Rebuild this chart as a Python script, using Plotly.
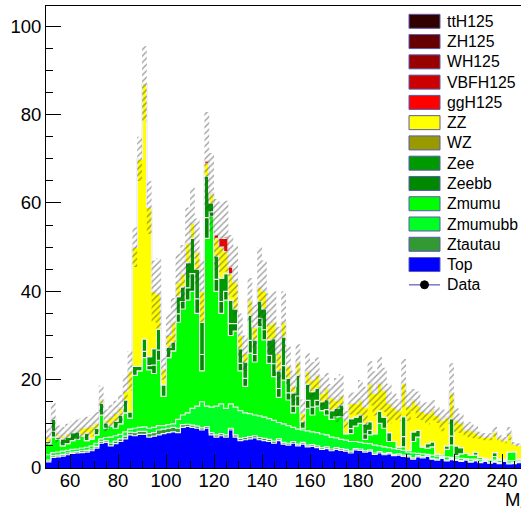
import numpy as np
import plotly.graph_objects as go

# ---------------- data (bins of 2 GeV, low edges 50..246) ----------------
bin_low = list(range(50, 248, 2))

top = [1.4, 2.4, 2.5, 2.7, 3.0, 3.3, 3.4, 3.5, 3.6, 3.9,
       4.5, 5.6, 5.8, 5.0, 5.5, 6.0, 6.6, 7.5, 7.3, 7.6,
       7.6, 7.0, 7.2, 7.5, 7.8, 8.0, 8.2, 8.0, 9.2, 9.4,
       9.2, 9.0, 8.6, 9.0, 7.5, 7.0, 7.3, 7.0, 8.6, 7.0,
       6.2, 6.4, 6.6, 6.8, 6.4, 6.2, 6.0, 5.6, 6.2, 5.4,
       5.2, 5.6, 5.0, 5.4, 4.8, 4.9, 4.6, 4.2, 4.4, 3.9,
       4.2, 4.0, 3.8, 3.4, 4.1, 4.0, 3.6, 3.8, 3.1, 3.4,
       3.0, 3.2, 2.8, 2.9, 2.6, 2.5, 2.0, 2.5, 2.3, 2.6,
       2.0, 1.8, 2.2, 1.6, 1.9, 1.7, 1.5, 1.8, 1.3, 1.6,
       1.2, 1.5, 1.1, 1.3, 1.0, 1.5, 0.9, 1.0, 1.2]

ztautau = [0.4, 0.4, 0.4, 0.4, 0.4, 0.3, 0.3, 0.4, 0.4, 0.4,
           0.4, 0.4, 0.4, 0.6, 0.6, 0.6, 0.6, 0.6, 0.7, 0.7,
           0.7, 0.8, 0.8, 1.1, 1.0, 1.0, 1.0, 1.0, 0.6, 0.5,
           0.5, 0.5, 0.5, 0.4, 0.5, 0.5, 0.5, 0.5, 0.4, 0.5,
           0.5, 0.5, 0.5, 0.5, 0.5, 0.5, 0.5, 0.5, 0.4, 0.4,
           0.4, 0.4, 0.4, 0.4, 0.4, 0.4, 0.4, 0.4, 0.4, 0.4,
           0.4, 0.4, 0.4, 0.4, 0.3, 0.3, 0.3, 0.3, 0.3, 0.3,
           0.3, 0.3, 0.3, 0.3, 0.3, 0.3, 0.3, 0.3, 0.3, 0.3,
           0.2, 0.2, 0.2, 0.2, 0.2, 0.2, 0.2, 0.2, 0.2, 0.2,
           0.2, 0.2, 0.2, 0.2, 0.2, 0.2, 0.2, 0.2, 0.2]

zmumubb = [1.2, 0.7, 0.7, 0.7, 0.6, 0.6, 0.6, 0.6, 0.7, 0.7,
           0.7, 0.6, 0.7, 1.4, 1.2, 1.0, 1.0, 0.7, 1.0, 0.9,
           1.0, 1.2, 1.2, 1.0, 0.8, 0.8, 0.8, 2.0, 2.2, 2.6,
           3.8, 4.5, 5.9, 4.6, 5.8, 6.5, 6.7, 6.0, 5.5, 6.3,
           6.3, 5.6, 5.2, 4.7, 4.9, 4.8, 4.7, 4.7, 3.7, 4.2,
           4.0, 3.2, 3.4, 2.8, 3.2, 2.9, 3.0, 3.1, 2.7, 2.7,
           2.2, 2.1, 2.1, 2.2, 1.6, 1.5, 1.7, 1.4, 1.8, 1.3,
           1.5, 1.1, 1.3, 1.0, 1.1, 0.8, 1.1, 0.5, 0.6, 0.2,
           0.7, 0.7, 0.2, 0.7, 0.3, 0.4, 0.5, 0.1, 0.5, 0.2,
           0.5, 0.2, 0.5, 0.3, 0.5, 0.0, 0.5, 0.4, 0.2]

zmumu = [2.5, 3.5, 2.9, 1.2, 1.5, 2.0, 2.2, 2.7, 1.5, 1.5,
         1.9, 5.4, 2.1, 2.5, 1.7, 2.4, 4.3, 2.5, 12.0, 12.8,
         15.7, 13.2, 12.2, 14.8, 6.6, 15.2, 16.5, 22.0, 24.0, 25.5,
         26.5, 21.0, 7.0, 38.0, 43.2, 26.0, 20.5, 24.5, 15.5, 17.2,
         9.0, 6.0, 13.7, 12.0, 20.2, 17.5, 12.5, 9.9, 5.7, 9.9,
         5.8, 3.3, 5.2, 0.4, 5.1, 3.8, 6.0, 5.3, 4.5, 4.0,
         4.8, 5.1, 1.5, 1.8, 3.5, 4.3, 0.9, 2.0, 2.6, 5.1,
         4.2, 1.4, 1.6, 0.6, 0.8, 0.4, 2.6, 3.7, 1.6, 1.4,
         1.9, 0.5, 0.4, 1.7, 2.8, 0.5, 1.0, 1.2, 0.9, 0.9,
         0.5, 0.3, 0.2, 0.8, 0.3, 0.3, 2.0, 2.1, 0.4]

zeebb = [0.0, 1.3, 0.0, 0.0, 0.0, 0.0, 0.0, 0.0, 0.0, 0.0,
         0.0, 0.0, 0.0, 0.0, 0.0, 0.0, 0.0, 0.0, 0.0, 0.0,
         1.4, 1.0, 1.9, 2.3, 0.0, 0.0, 0.0, 1.9, 1.7, 2.8,
         4.0, 3.3, 3.7, 4.7, 1.0, 2.7, 2.7, 2.0, 2.7, 1.7,
         1.7, 1.8, 2.9, 1.7, 1.9, 2.3, 1.8, 2.9, 2.0, 3.3,
         1.6, 1.5, 2.3, 0.0, 1.8, 1.8, 1.3, 0.0, 1.2, 0.0,
         0.0, 0.0, 0.0, 1.1, 0.0, 0.0, 1.2, 1.0, 0.0, 0.0,
         0.0, 0.0, 0.0, 0.0, 2.3, 0.0, 0.0, 0.0, 0.0, 0.0,
         0.0, 0.0, 0.0, 0.0, 2.0, 0.0, 0.0, 0.0, 0.0, 0.0,
         0.0, 0.0, 0.0, 0.0, 0.0, 0.0, 0.0, 0.0, 0.0]

zee = [0.5, 2.7, 0.5, 1.6, 1.5, 1.8, 1.7, 0.2, 1.7, 0.1,
       1.5, 2.7, 1.2, 0.2, 1.6, 1.9, 2.9, 1.4, 2.0, 1.0,
       2.8, 2.0, 3.7, 4.7, 2.6, 2.3, 2.0, 3.9, 3.3, 5.7,
       8.0, 6.7, 7.3, 9.3, 2.0, 5.3, 5.3, 4.0, 5.3, 3.3,
       3.3, 3.7, 5.7, 3.3, 3.8, 4.7, 3.5, 5.7, 4.0, 6.5,
       3.3, 3.0, 4.7, 1.5, 3.7, 3.5, 2.7, 2.0, 2.3, 2.0,
       1.9, 2.7, 0.0, 2.3, 2.0, 1.9, 2.3, 2.0, 0.0, 2.7,
       2.5, 2.0, 0.0, 0.0, 4.5, 0.0, 2.2, 1.5, 0.0, 1.0,
       1.1, 0.0, 0.0, 0.8, 4.0, 2.2, 1.4, 0.0, 0.0, 0.7,
       0.0, 0.0, 0.0, 0.9, 0.0, 0.0, 0.0, 0.0, 0.0]

wz = [0.0] * 99

zz = [1.0, 0.3, 0.6, 0.7, 0.8, 0.4, 0.5, 1.6, 1.3, 3.0,
      1.2, 0.8, 0.6, 1.9, 1.8, 1.7, 2.1, 9.3, 27.0, 47.0,
      57.8, 33.8, 13.0, 8.1, 3.7, 2.7, 4.5, 3.2, 3.0, 4.5,
      3.5, 4.0, 7.0, 3.0, 2.0, 4.0, 7.0, 5.0, 6.0, 6.0,
      3.0, 2.0, 3.4, 3.0, 3.3, 4.0, 3.5, 3.7, 4.0, 3.3,
      2.7, 1.5, 3.0, 2.0, 3.0, 2.7, 3.0, 2.0, 2.5, 3.0,
      1.9, 1.9, 3.1, 3.4, 3.1, 3.4, 3.9, 8.7, 9.1, 6.4,
      6.2, 6.6, 7.9, 8.3, 7.6, 10.0, 7.2, 5.8, 8.0, 6.9,
      7.2, 8.8, 7.8, 6.5, 5.7, 5.8, 5.5, 5.3, 5.7, 4.6,
      5.0, 4.9, 5.1, 4.7, 4.7, 4.3, 4.2, 1.8, 3.2]

higgs_bins = [116, 118, 120, 122, 124, 126, 128]
ggh_vals = [0.6, 0.3, 0.8, 2.0, 3.0, 1.5, 0.3]
vbfh_vals = [0.0, 0.0, 0.1, 0.2, 0.3, 0.2, 0.0]
wh_vals = [0.0, 0.0, 0.0, 0.05, 0.1, 0.05, 0.0]
zh_vals = [0.0, 0.0, 0.0, 0.05, 0.05, 0.0, 0.0]
tth_vals = [0.0, 0.0, 0.0, 0.0, 0.03, 0.0, 0.0]

stat_err = [2.0, 3.5, 2.0, 2.0, 2.2, 2.2, 2.3, 2.3, 2.4, 2.4,
            2.5, 3.2, 2.5, 2.7, 2.8, 3.0, 3.5, 4.5, 4.5, 5.0,
            8.5, 6.0, 7.0, 8.0, 2.5, 5.0, 5.5, 6.5, 6.5, 8.0,
            8.0, 7.5, 7.0, 11.0, 9.0, 8.0, 8.0, 8.0, 7.0, 8.0,
            5.0, 4.0, 5.0, 5.0, 9.0, 7.0, 7.0, 7.0, 6.0, 7.0,
            4.5, 3.5, 4.0, 3.0, 4.0, 4.0, 4.0, 3.5, 3.5, 3.0,
            5.0, 5.0, 2.0, 2.5, 2.5, 4.5, 4.5, 5.0, 5.0, 6.0,
            5.0, 4.5, 3.0, 2.5, 5.5, 3.3, 2.5, 3.0, 2.0, 2.5,
            2.3, 1.8, 2.5, 1.5, 6.8, 2.7, 2.2, 1.5, 1.8, 1.5,
            0.8, 0.8, 0.8, 1.1, 0.7, 0.7, 1.5, 0.4, 0.4]


def spread(bins, vals):
    out = [0.0] * len(bin_low)
    for b, v in zip(bins, vals):
        out[bin_low.index(b)] = v
    return out


ggh = spread(higgs_bins, ggh_vals)
vbfh = spread(higgs_bins, vbfh_vals)
wh = spread(higgs_bins, wh_vals)
zh = spread(higgs_bins, zh_vals)
tth = spread(higgs_bins, tth_vals)

# stacking order bottom -> top
layers = [
    ("Top", top, "#0000ff"),
    ("Ztautau", ztautau, "#339933"),
    ("Zmumubb", zmumubb, "#00ff22"),
    ("Zmumu", zmumu, "#00ff00"),
    ("Zeebb", zeebb, "#008800"),
    ("Zee", zee, "#009900"),
    ("WZ", wz, "#999900"),
    ("ZZ", zz, "#ffff00"),
    ("ggH125", ggh, "#ff0000"),
    ("VBFH125", vbfh, "#cc0000"),
    ("WH125", wh, "#990000"),
    ("ZH125", zh, "#660000"),
    ("ttH125", tth, "#330000"),
]

edges = np.array(bin_low + [bin_low[-1] + 2], dtype=float)


def step(y):
    y = np.asarray(y, dtype=float)
    return np.append(y, y[-1])


fig = go.Figure()
cum = np.zeros(len(bin_low))
for i, (name, vals, col) in enumerate(layers):
    cum = cum + np.asarray(vals, dtype=float)
    fig.add_trace(go.Scatter(
        x=edges, y=step(cum), mode="lines",
        line=dict(shape="hv", color="rgba(240,240,240,1)", width=1.2),
        fill="tozeroy" if i == 0 else "tonexty",
        fillcolor=col, name=name, showlegend=False, hoverinfo="skip"))

total = cum.copy()
err = np.asarray(stat_err, dtype=float)
lo = np.clip(total - err, 0, None)
hi = total + err
fig.add_trace(go.Scatter(x=edges, y=step(lo), mode="lines",
                         line=dict(shape="hv", width=0, color="rgba(0,0,0,0)"),
                         showlegend=False, hoverinfo="skip"))
fig.add_trace(go.Scatter(x=edges, y=step(hi), mode="lines",
                         line=dict(shape="hv", width=0, color="rgba(0,0,0,0)"),
                         fill="tonexty", fillcolor="rgba(0,0,0,0)",
                         fillpattern=dict(shape="/", fgcolor="#3c3c3c",
                                          bgcolor="rgba(0,0,0,0)",
                                          size=4.5, solidity=0.3),
                         showlegend=False, hoverinfo="skip"))

# ---------------- layout ----------------
W, H = 521, 514
L, R, T, B = 46, 0, 6, 46
pw, ph = W - L - R, H - T - B
FONT = "Liberation Sans, Arial, Helvetica, sans-serif"

xmax = 50 + pw / 2.4
ymax = ph / 4.417

fig.update_layout(
    width=W, height=H,
    margin=dict(l=L, r=R, t=T, b=B, pad=0),
    paper_bgcolor="white", plot_bgcolor="white",
    font=dict(family=FONT, size=18, color="black"),
    showlegend=False,
)
fig.update_xaxes(range=[50, xmax], showgrid=False, zeroline=False,
                 showline=True, linecolor="black", linewidth=1, mirror=True,
                 ticks="inside", ticklen=14, tickwidth=1, tickcolor="black",
                 tick0=0, dtick=20, tickfont=dict(size=18.5, family=FONT),
                 ticklabelstandoff=-4,
                 minor=dict(dtick=5, ticklen=7, ticks="inside", tickcolor="black", tickwidth=1))
fig.update_yaxes(range=[0, ymax], showgrid=False, zeroline=False,
                 showline=True, linecolor="black", linewidth=1, mirror=False,
                 ticks="inside", ticklen=15, tickwidth=1, tickcolor="black",
                 tick0=0, dtick=20, tickfont=dict(size=18.5, family=FONT),
                 minor=dict(dtick=5, ticklen=7, ticks="inside", tickcolor="black", tickwidth=1))


def px2paper(px, py):
    return (px - L) / pw, (H - B - py) / ph


legend_items = [("ttH125", "#330000"), ("ZH125", "#660000"), ("WH125", "#990000"),
                ("VBFH125", "#cc0000"), ("ggH125", "#ff0000"), ("ZZ", "#ffff00"),
                ("WZ", "#999900"), ("Zee", "#009900"), ("Zeebb", "#008800"),
                ("Zmumu", "#00ff00"), ("Zmumubb", "#00ff22"), ("Ztautau", "#339933"),
                ("Top", "#0000ff"), ("Data", None)]
shapes, annos = [], []
for i, (lab, col) in enumerate(legend_items):
    yc = 21.3 + 20.27 * i
    if col is not None:
        x0, y0 = px2paper(409, yc + 7)
        x1, y1 = px2paper(440, yc - 7)
        shapes.append(dict(type="rect", xref="paper", yref="paper", x0=x0, y0=y0, x1=x1, y1=y1,
                           fillcolor=col, line=dict(color="#5a5ab0", width=1), layer="above"))
    else:
        x0, yy = px2paper(409, yc)
        x1, _ = px2paper(440, yc)
        shapes.append(dict(type="line", xref="paper", yref="paper", x0=x0, y0=yy, x1=x1, y1=yy,
                           line=dict(color="#7878cc", width=1.5), layer="above"))
        cx0, cy0 = px2paper(420.5, yc + 4)
        cx1, cy1 = px2paper(428.5, yc - 4)
        shapes.append(dict(type="circle", xref="paper", yref="paper", x0=cx0, y0=cy0, x1=cx1, y1=cy1,
                           fillcolor="black", line=dict(color="black", width=1), layer="above"))
    tx, ty = px2paper(445, yc)
    annos.append(dict(x=tx, y=ty, xref="paper", yref="paper", text=lab, showarrow=False,
                      xanchor="left", yanchor="middle", font=dict(size=15.8, family=FONT, color="black")))

mx, my = px2paper(503, 501)
annos.append(dict(x=mx, y=my, xref="paper", yref="paper", text="M<sub>4l</sub>", showarrow=False,
                  xanchor="left", yanchor="middle", font=dict(size=18.5, family=FONT, color="black")))

fig.update_layout(shapes=shapes, annotations=annos)
fig.write_html("out.html")
